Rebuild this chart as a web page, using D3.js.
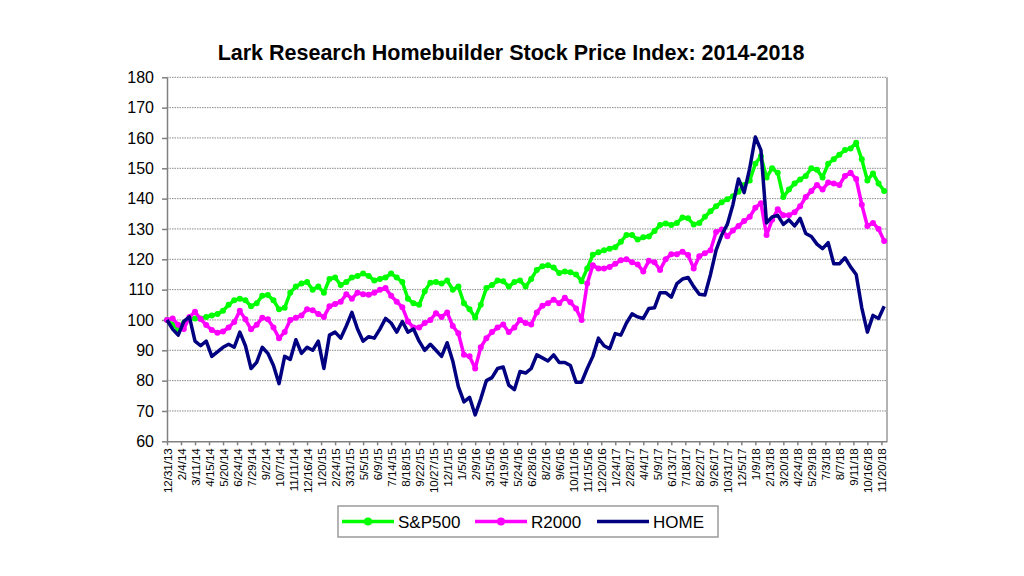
<!DOCTYPE html>
<html>
<head>
<meta charset="utf-8">
<script src="https://cdn.jsdelivr.net/npm/d3@7"></script>
<style>
    body { margin: 0; background: #fff; }
    text { font-family: "Liberation Sans", Arial, sans-serif; }
</style>
</head>
<body>
<script>
"use strict";

// tick labels, one every 5 weeks starting at week 0
var tickLabels = ["12/31/13", "2/4/14", "3/11/14", "4/15/14", "5/20/14", "6/24/14", "7/29/14", "9/2/14",
    "10/7/14", "11/11/14", "12/16/14", "1/20/15", "2/24/15", "3/31/15", "5/5/15", "6/9/15", "7/14/15",
    "8/18/15", "9/22/15", "10/27/15", "12/1/15", "1/5/16", "2/9/16", "3/15/16", "4/19/16", "5/24/16",
    "6/28/16", "8/2/16", "9/6/16", "10/11/16", "11/15/16", "12/20/16", "1/24/17", "2/28/17", "4/4/17",
    "5/9/17", "6/13/17", "7/18/17", "8/22/17", "9/26/17", "10/31/17", "12/5/17", "1/9/18", "2/13/18",
    "3/20/18", "4/24/18", "5/29/18", "7/3/18", "8/7/18", "9/11/18", "10/16/18", "11/20/18"];

// values read every second week (week 0, 2, 4 ... 256)
var sp500 = [100, 98.5, 97, 99, 100.5, 100.5, 100.5, 101, 101.5, 102,
    103, 105, 106.5, 107, 106.5, 104.5, 105.5, 108, 108.2, 106.5,
    103.5, 104, 109, 111, 112, 112.5, 110, 111, 109, 113.5,
    114, 111.5, 112.5, 114, 114.5, 115.3, 114.5, 113, 113.5, 114,
    115.3, 114, 112.5, 107, 105.5, 105, 109.5, 112.3, 112.5, 112,
    113, 110, 111, 105.5, 103.5, 100.8, 105, 110.5, 111.5, 113,
    112.8, 111, 112.5, 113, 111, 113.5, 116.5, 117.7, 118, 117.3,
    115.5, 116, 115.7, 115, 112.8, 117, 121.5, 122.3, 123, 123.5,
    124, 125.8, 128, 128, 126.5, 127.3, 127.5, 129.3, 131.3, 131.8,
    131.3, 132, 133.8, 133.5, 131.5, 132, 134, 135.8, 137.5, 138.8,
    139.8, 140.8, 142.3, 144.5, 146, 151.5, 154, 147, 150, 148.5,
    140.5, 143, 145, 146.3, 147.5, 150, 149.5, 147, 151.5, 153,
    154.5, 156, 156.5, 158.4, 153, 146, 148.3, 145, 142.5];

var r2000 = [100, 100.5, 98.4, 97, 101, 102.7, 100.3, 98.3, 96.7, 95.8,
    96.2, 97.5, 99.3, 103, 100.2, 96.9, 98.4, 100.7, 100.2, 97.5,
    94, 96, 100, 100.7, 101.5, 103.5, 103.2, 102, 101, 104.5,
    105.3, 106, 108.5, 107, 109, 108.5, 108.3, 109, 110, 110.5,
    108, 106, 104.2, 99.5, 97.5, 97.5, 99, 100, 102.2, 101,
    102.5, 98, 95.6, 88.5, 88, 84, 91, 94, 96, 97.5,
    98.5, 96, 97.5, 100, 99, 98.5, 102.5, 104.7, 105.5, 106.7,
    105.5, 107.3, 105.8, 103.8, 100, 112, 118, 117, 117, 117.5,
    118.5, 119.7, 120, 119, 118.3, 116, 119.5, 119, 116.5, 120,
    121.7, 121.7, 122.5, 121.4, 117, 121, 122, 123, 129, 129.8,
    127.6, 129.5, 131, 132.6, 134, 137, 138.5, 128, 133, 136.5,
    134.5, 134.5, 135.5, 137.5, 140.5, 142.5, 144.5, 143, 145.3, 145,
    144.5, 147.5, 148.5, 146.5, 138, 131, 132, 130, 126];

var home = [100, 97, 95, 99.5, 101, 93, 91.5, 93, 88, 89.5,
    91, 92, 91, 96, 91.5, 84, 86, 91, 89, 85,
    79, 88, 87, 93.5, 89, 91, 90, 93, 84, 95,
    96, 94, 98, 102.5, 97, 93, 94.5, 94, 97, 100.5,
    99, 96, 99.5, 96, 97, 93, 90, 92, 90, 88,
    92.5, 86.5, 78, 73, 74.5, 68.7, 74, 80, 81, 84,
    84.5, 78.5, 77, 83, 82.5, 84, 88.5, 87.5, 86.5, 88.5,
    86, 86, 85, 79.5, 79.5, 84, 88, 94, 91.5, 90.5,
    95.5, 95, 99, 102, 101, 100.5, 103.8, 104, 109, 109,
    107.5, 112, 113.5, 114, 111, 108.5, 108.2, 115, 123, 128,
    131.5, 138, 146.5, 142, 150, 160.3, 156, 132, 134, 134.5,
    131.5, 133, 131, 133.5, 128.5, 127.5, 125, 123.5, 125.5, 118.5,
    118.5, 120.5, 117.5, 115, 104, 96, 101.5, 100.5, 104.5];

var seriesNames = ["S&P500", "R2000", "HOME"];
var seriesColors = ["#00ff00", "#ff00ff", "#000080"];
var yTicks = [60, 70, 80, 90, 100, 110, 120, 130, 140, 150, 160, 170, 180];

var widthEcran = 1024, heightEcran = 576;
var weekStep = 2, lastWeek = 257, tickEvery = 5;

var canvas = d3.select("body")
    .append("svg")
    .attr("width", widthEcran)
    .attr("height", heightEcran);

var x = d3.scaleLinear().domain([0, lastWeek]).range([167, 887]);
var y = d3.scaleLinear().domain([60, 180]).range([441.3, 77.3]);

canvas.append("text")
    .attr("x", 511)
    .attr("y", 60)
    .attr("text-anchor", "middle")
    .attr("font-size", "21.5px")
    .attr("font-weight", "bold")
    .text("Lark Research Homebuilder Stock Price Index: 2014-2018");

// gridlines
canvas.append("g")
    .selectAll("line")
    .data(yTicks.slice(1))
    .enter()
    .append("line")
    .attr("x1", x(0))
    .attr("x2", x(lastWeek))
    .attr("y1", function (d) { return y(d); })
    .attr("y2", function (d) { return y(d); })
    .attr("stroke", "#8a8a8a")
    .attr("stroke-width", 1)
    .attr("stroke-dasharray", "1.5,1");

// right border of plot area
canvas.append("line")
    .attr("x1", x(lastWeek)).attr("x2", x(lastWeek))
    .attr("y1", y(180)).attr("y2", y(60))
    .attr("stroke", "#9a9a9a")
    .attr("stroke-width", 1.5);

var yAxis = canvas.append("g")
    .attr("transform", "translate(" + x(0) + ",0)")
    .call(d3.axisLeft(y).tickValues(yTicks).tickSize(5).tickSizeOuter(0));
yAxis.selectAll("path, line").attr("stroke", "#808080").attr("stroke-width", 1.5);
yAxis.selectAll("text")
    .attr("font-size", "16px")
    .attr("font-family", "Liberation Sans, Arial, sans-serif")
    .attr("fill", "#000")
    .attr("x", -13);

var xAxis = canvas.append("g")
    .attr("transform", "translate(0," + y(60) + ")")
    .call(d3.axisBottom(x)
        .tickValues(tickLabels.map(function (d, i) { return i * tickEvery; }))
        .tickFormat(function (d, i) { return tickLabels[i]; })
        .tickSize(4)
        .tickSizeOuter(0));
xAxis.selectAll("path, line").attr("stroke", "#808080").attr("stroke-width", 1.5);
xAxis.selectAll("text")
    .attr("font-size", "11.5px")
    .attr("font-family", "Liberation Sans, Arial, sans-serif")
    .attr("fill", "#000")
    .attr("transform", "rotate(-90)")
    .attr("text-anchor", "end")
    .attr("x", -7)
    .attr("y", 0)
    .attr("dy", "0.35em");

function drawSeries(values, color, withDots, width) {
    var line = d3.line()
        .x(function (d, i) { return x(i * weekStep); })
        .y(function (d) { return y(d); });
    canvas.append("path")
        .datum(values)
        .attr("fill", "none")
        .attr("stroke", color)
        .attr("stroke-width", width)
        .attr("stroke-linejoin", "round")
        .attr("d", line);
    if (withDots) {
        canvas.append("g")
            .selectAll("circle")
            .data(values)
            .enter()
            .append("circle")
            .attr("cx", function (d, i) { return x(i * weekStep); })
            .attr("cy", function (d) { return y(d); })
            .attr("r", 3)
            .attr("fill", color);
    }
}

drawSeries(sp500, seriesColors[0], true, 3.5);
drawSeries(r2000, seriesColors[1], true, 3.5);
drawSeries(home, seriesColors[2], false, 3.5);

// legend
var legend = canvas.append("g");
legend.append("rect")
    .attr("x", 338)
    .attr("y", 506)
    .attr("width", 380)
    .attr("height", 31)
    .attr("fill", "white")
    .attr("stroke", "#9a9a9a")
    .attr("stroke-width", 1.5);

var legendX = [342, 475, 597];
seriesNames.forEach(function (name, i) {
    legend.append("line")
        .attr("x1", legendX[i])
        .attr("x2", legendX[i] + 52)
        .attr("y1", 521.5)
        .attr("y2", 521.5)
        .attr("stroke", seriesColors[i])
        .attr("stroke-width", 3.5);
    if (i < 2) {
        legend.append("circle")
            .attr("cx", legendX[i] + 26)
            .attr("cy", 521.5)
            .attr("r", 4)
            .attr("fill", seriesColors[i]);
    }
    legend.append("text")
        .attr("x", legendX[i] + 56)
        .attr("y", 527.5)
        .attr("font-size", "17px")
        .text(name);
});
</script>
</body>
</html>
